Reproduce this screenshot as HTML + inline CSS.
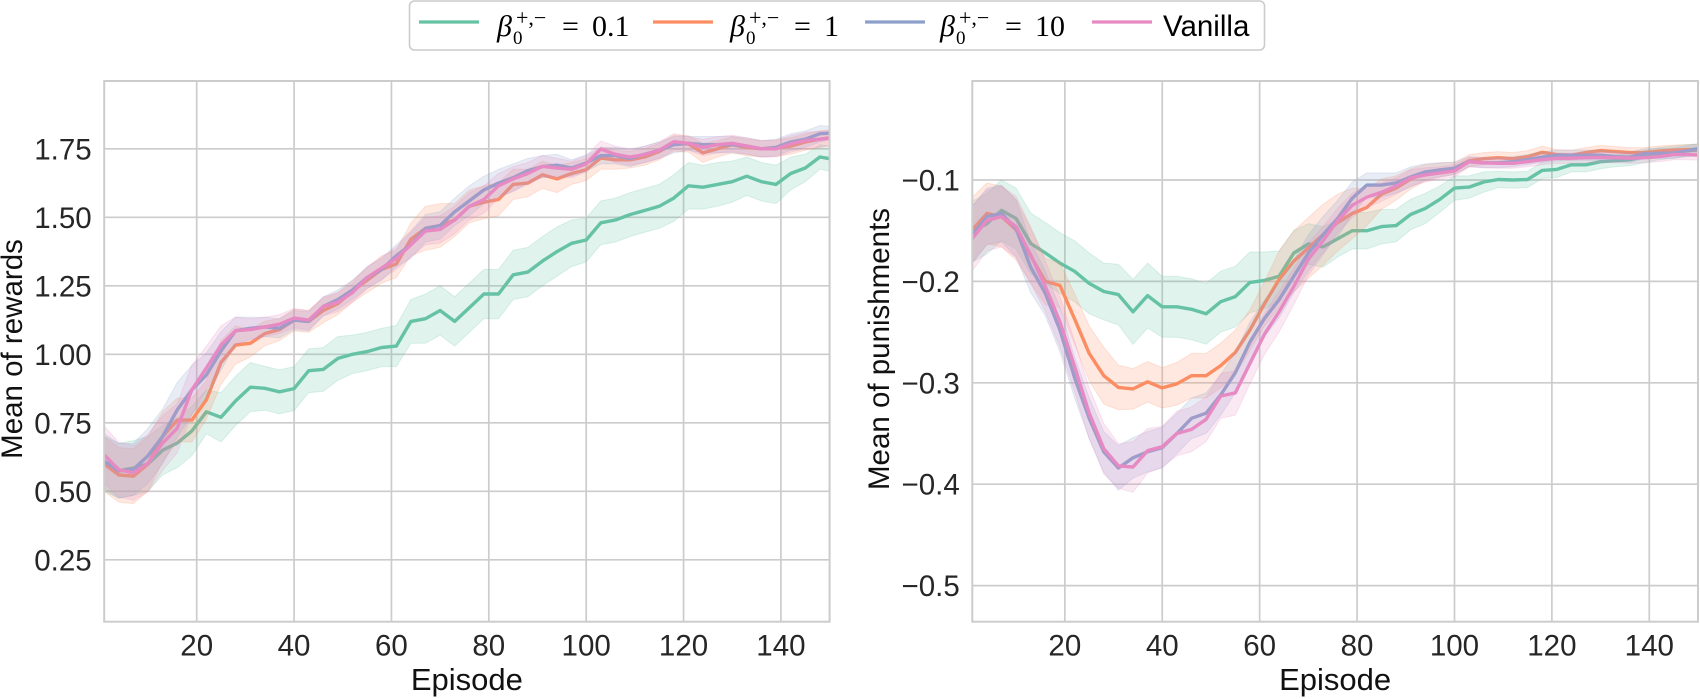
<!DOCTYPE html>
<html lang="en">
<head>
<meta charset="utf-8">
<title>Mean of rewards and punishments per episode</title>
<style>
html,body{margin:0;padding:0;background:#fff;}
body{width:1700px;height:699px;overflow:hidden;}
svg{display:block;font-family:"Liberation Sans",Arial,sans-serif;}
.serif{font-family:"Liberation Serif","DejaVu Serif",serif;fill:#000;}
</style>
</head>
<body>
<svg id="chart" width="1700" height="699" viewBox="0 0 1700 699" xmlns="http://www.w3.org/2000/svg">
  <rect width="1700" height="699" fill="#ffffff"/>
  <g id="panels"></g>
  <g>
    <rect x="409.5" y="1" width="855" height="49" rx="5" fill="#fff" stroke="#cccccc" stroke-width="1.6"/>
    <g>
      <line x1="419" x2="479" y1="22" y2="22" stroke="#66c2a5" stroke-width="3.2"/>
      <text class="serif" x="497" y="36" font-size="30" font-style="italic">β</text>
      <text class="serif" x="516" y="25" font-size="22">+,−</text>
      <text class="serif" x="513" y="44" font-size="19">0</text>
      <text class="serif" x="562" y="36" font-size="30">=</text>
      <text class="serif" x="592" y="36" font-size="30">0.1</text>
    </g>
    <g>
      <line x1="653" x2="713" y1="22" y2="22" stroke="#fc8d62" stroke-width="3.2"/>
      <text class="serif" x="730" y="36" font-size="30" font-style="italic">β</text>
      <text class="serif" x="749" y="25" font-size="22">+,−</text>
      <text class="serif" x="746" y="44" font-size="19">0</text>
      <text class="serif" x="794" y="36" font-size="30">=</text>
      <text class="serif" x="824" y="36" font-size="30">1</text>
    </g>
    <g>
      <line x1="865" x2="925" y1="22" y2="22" stroke="#8da0cb" stroke-width="3.2"/>
      <text class="serif" x="940" y="36" font-size="30" font-style="italic">β</text>
      <text class="serif" x="959" y="25" font-size="22">+,−</text>
      <text class="serif" x="956" y="44" font-size="19">0</text>
      <text class="serif" x="1005" y="36" font-size="30">=</text>
      <text class="serif" x="1035" y="36" font-size="30">10</text>
    </g>
    <g>
      <line x1="1092" x2="1152" y1="22" y2="22" stroke="#e78ac3" stroke-width="3.2"/>
      <text x="1163" y="36" font-size="29.5" fill="#000">Vanilla</text>
    </g>
  </g>
</svg>
<script>
// Shared categories
const episodes = [1,4,7,10,13,16,19,22,25,28,31,34,37,40,43,46,49,52,55,58,61,64,67,70,73,76,79,82,85,88,91,94,97,100,103,106,109,112,115,118,121,124,127,130,133,136,139,142,145,148,150];
const xTickValues = [20,40,60,80,100,120,140];
const seriesNames = ['beta-0.1','beta-1','beta-10','vanilla'];
const seriesColors = ['#66c2a5','#fc8d62','#8da0cb','#e78ac3'];

// Left panel: mean of rewards
const rewardTickValues = [0.25,0.5,0.75,1.0,1.25,1.5,1.75];
const rewardTickLabels = ['0.25','0.50','0.75','1.00','1.25','1.50','1.75'];
const rewardsBeta01 = [.60,.575,.585,.60,.65,.676,.72,.79,.77,.83,.88,.876,.863,.875,.94,.945,.985,1.0,1.01,1.025,1.03,1.12,1.13,1.16,1.12,1.17,1.22,1.22,1.29,1.30,1.34,1.375,1.405,1.417,1.48,1.49,1.51,1.525,1.54,1.57,1.615,1.61,1.62,1.63,1.65,1.63,1.62,1.66,1.68,1.72,1.714];
const rewardsBeta1 = [.60,.56,.555,.60,.70,.76,.76,.834,.97,1.034,1.04,1.076,1.09,1.125,1.12,1.16,1.185,1.23,1.27,1.31,1.33,1.42,1.46,1.47,1.49,1.54,1.555,1.565,1.62,1.625,1.655,1.64,1.66,1.674,1.716,1.71,1.71,1.72,1.74,1.77,1.768,1.735,1.75,1.765,1.755,1.75,1.752,1.76,1.775,1.785,1.79];
const rewardsBeta10 = [.61,.575,.58,.63,.70,.797,.87,.925,1.012,1.086,1.095,1.10,1.095,1.125,1.12,1.175,1.2,1.235,1.28,1.31,1.36,1.40,1.46,1.47,1.52,1.56,1.60,1.625,1.645,1.67,1.685,1.69,1.68,1.698,1.725,1.725,1.715,1.73,1.745,1.765,1.77,1.765,1.765,1.765,1.76,1.75,1.755,1.775,1.785,1.805,1.807];
const rewardsVanilla = [.633,.579,.567,.603,.676,.73,.87,.95,1.034,1.086,1.09,1.10,1.11,1.132,1.125,1.175,1.19,1.225,1.28,1.315,1.35,1.40,1.45,1.456,1.49,1.54,1.565,1.615,1.64,1.66,1.686,1.68,1.675,1.695,1.749,1.73,1.72,1.729,1.745,1.776,1.77,1.755,1.765,1.77,1.76,1.75,1.75,1.768,1.78,1.785,1.789];
const rewardsSpreadBeta01 = [.1,.1,.1,.1,.09,.09,.09,.08,.09,.09,.09,.08,.08,.08,.08,.08,.08,.07,.07,.07,.075,.08,.09,.09,.09,.09,.09,.09,.09,.09,.09,.09,.085,.08,.08,.08,.08,.08,.08,.085,.085,.08,.08,.075,.07,.07,.07,.06,.05,.045,.045];
const rewardsSpreadBeta1 = [.1,.1,.1,.1,.09,.08,.08,.07,.08,.07,.05,.045,.04,.04,.04,.045,.04,.04,.045,.05,.05,.06,.08,.08,.06,.06,.06,.06,.055,.05,.05,.05,.04,.04,.04,.035,.03,.03,.03,.03,.03,.035,.03,.03,.03,.03,.03,.03,.03,.03,.03];
const rewardsSpreadBeta10 = [.1,.1,.095,.1,.1,.1,.09,.08,.07,.05,.04,.035,.035,.035,.035,.035,.035,.035,.04,.04,.04,.05,.05,.05,.05,.055,.05,.05,.05,.045,.04,.04,.03,.03,.03,.03,.03,.03,.03,.03,.025,.03,.03,.03,.03,.03,.03,.03,.03,.03,.025];
const rewardsSpreadVanilla = [.105,.1,.1,.105,.1,.09,.09,.08,.07,.05,.04,.035,.035,.035,.035,.035,.035,.035,.04,.04,.04,.045,.05,.05,.05,.05,.05,.045,.045,.04,.04,.035,.03,.03,.03,.03,.03,.03,.03,.03,.025,.03,.03,.03,.03,.03,.03,.03,.03,.03,.025];

// Right panel: mean of punishments
const punishTickValues = [-0.1,-0.2,-0.3,-0.4,-0.5];
const punishTickLabels = ['−0.1','−0.2','−0.3','−0.4','−0.5'];
const punishBeta01 = [-.151,-.143,-.13,-.138,-.1625,-.172,-.182,-.19,-.202,-.21,-.213,-.23,-.214,-.225,-.225,-.2275,-.232,-.22,-.215,-.201,-.199,-.195,-.172,-.163,-.166,-.158,-.15,-.15,-.146,-.145,-.134,-.128,-.119,-.108,-.107,-.102,-.0995,-.1,-.0995,-.0905,-.0895,-.085,-.085,-.082,-.081,-.08,-.077,-.074,-.0725,-.071,-.0705];
const punishBeta1 = [-.149,-.133,-.136,-.149,-.175,-.2,-.204,-.237,-.271,-.293,-.3045,-.306,-.299,-.305,-.301,-.293,-.293,-.283,-.27,-.248,-.222,-.198,-.18,-.167,-.154,-.142,-.133,-.127,-.114,-.108,-.099,-.093,-.09,-.0885,-.081,-.079,-.078,-.079,-.077,-.0727,-.075,-.0755,-.073,-.071,-.072,-.073,-.073,-.0715,-.0705,-.07,-.07];
const punishBeta10 = [-.154,-.136,-.133,-.148,-.186,-.212,-.248,-.295,-.335,-.368,-.384,-.374,-.368,-.364,-.35,-.335,-.33,-.312,-.29,-.26,-.2365,-.218,-.195,-.172,-.154,-.138,-.118,-.105,-.105,-.103,-.097,-.092,-.09,-.0885,-.082,-.083,-.083,-.082,-.08,-.0775,-.0755,-.0755,-.0755,-.0755,-.077,-.0775,-.074,-.0737,-.0735,-.071,-.069];
const punishVanilla = [-.1576,-.14,-.136,-.146,-.174,-.205,-.24,-.284,-.33,-.365,-.382,-.383,-.367,-.363,-.35,-.346,-.336,-.313,-.31,-.281,-.252,-.23,-.205,-.178,-.16,-.14,-.125,-.117,-.112,-.106,-.098,-.095,-.093,-.091,-.082,-.083,-.0835,-.0835,-.082,-.08,-.0787,-.0785,-.078,-.0777,-.078,-.0785,-.078,-.077,-.075,-.075,-.0754];
const punishSpreadBeta01 = [.03,.03,.03,.03,.03,.03,.03,.03,.03,.028,.03,.032,.032,.03,.03,.03,.03,.03,.03,.03,.028,.025,.022,.02,.02,.018,.018,.018,.017,.016,.015,.015,.013,.012,.011,.01,.008,.008,.008,.008,.008,.007,.007,.007,.006,.006,.006,.006,.006,.006,.006];
const punishSpreadBeta1 = [.032,.03,.03,.03,.027,.023,.022,.025,.027,.028,.022,.02,.02,.02,.021,.022,.022,.022,.022,.02,.022,.028,.03,.03,.03,.028,.025,.018,.015,.012,.01,.008,.007,.006,.006,.006,.006,.006,.006,.006,.005,.005,.005,.005,.005,.005,.005,.005,.005,.005,.005];
const punishSpreadBeta10 = [.028,.028,.028,.028,.025,.022,.022,.02,.02,.02,.022,.02,.02,.02,.02,.02,.02,.02,.02,.02,.018,.018,.016,.018,.018,.018,.016,.012,.012,.01,.01,.008,.007,.006,.005,.005,.005,.005,.005,.005,.005,.005,.005,.005,.005,.005,.005,.005,.005,.005,.005];
const punishSpreadVanilla = [.032,.03,.03,.03,.028,.025,.025,.025,.025,.025,.022,.025,.022,.02,.022,.022,.022,.022,.022,.02,.02,.02,.018,.016,.014,.012,.012,.01,.009,.008,.008,.007,.006,.006,.005,.005,.005,.005,.005,.005,.005,.005,.005,.005,.005,.005,.005,.005,.005,.005,.005];

const NS = 'http://www.w3.org/2000/svg';
const root = document.getElementById('panels');

function make(tag, attrs, parent) {
  const el = document.createElementNS(NS, tag);
  for (const k in attrs) el.setAttribute(k, attrs[k]);
  parent.appendChild(el);
  return el;
}

function drawPanel(cfg) {
  const group = make('g', {}, root);
  
  

  const L = cfg.left, R = cfg.right, T = 81, B = 621.7;
  const xScale = function (e) { return L + (e - 1) * (R - L) / 149; };
  const yScale = function (v) { return cfg.y0 + (cfg.v0 - v) * cfg.yPerUnit; };

  const clipId = cfg.id + '-clip';
  const defs = make('defs', {}, group);
  const clip = make('clipPath', { id: clipId }, defs);
  make('rect', { x: L, y: T, width: R - L, height: B - T }, clip);

  xTickValues.forEach(function (t) {
    const g = make('line', { x1: xScale(t), x2: xScale(t), y1: T, y2: B, stroke: '#cccccc', 'stroke-width': 1.7 }, group);
    
    
    const lab = make('text', { x: xScale(t), y: 655.5, 'text-anchor': 'middle', 'font-size': 29.5, fill: '#262626' }, group);
    lab.textContent = String(t);
    
    
  });

  cfg.yTicks.forEach(function (t, i) {
    const g = make('line', { x1: L, x2: R, y1: yScale(t), y2: yScale(t), stroke: '#cccccc', 'stroke-width': 1.7 }, group);
    
    
    const lab = make('text', { x: L - 12.5, y: yScale(t) + 10.5, 'text-anchor': 'end', 'font-size': 29.5, fill: '#262626' }, group);
    lab.textContent = cfg.yLabels[i];
    
    
  });

  const marks = make('g', { 'clip-path': 'url(#' + clipId + ')' }, group);
  cfg.series.forEach(function (values, s) {
    const spread = cfg.spreads[s];
    const upper = values.map(function (v, i) { return xScale(episodes[i]).toFixed(1) + ',' + yScale(v + spread[i]).toFixed(1); });
    const lower = values.map(function (v, i) { return xScale(episodes[i]).toFixed(1) + ',' + yScale(v - spread[i]).toFixed(1); }).reverse();
    const band = make('polygon', { points: upper.concat(lower).join(' '), fill: seriesColors[s], 'fill-opacity': 0.2, stroke: seriesColors[s], 'stroke-opacity': 0.2, 'stroke-width': 1 }, marks);
    
    
    const pts = values.map(function (v, i) { return xScale(episodes[i]).toFixed(1) + ',' + yScale(v).toFixed(1); });
    const line = make('polyline', { points: pts.join(' '), fill: 'none', stroke: seriesColors[s], 'stroke-width': 3.4, 'stroke-linejoin': 'round', 'stroke-linecap': 'round' }, marks);
    
    
  });

  const frame = make('rect', { x: L, y: T, width: R - L, height: B - T, fill: 'none', stroke: '#cccccc', 'stroke-width': 2 }, group);
  
  

  const xTitle = make('text', { x: (L + R) / 2, y: 690, 'text-anchor': 'middle', 'font-size': 31, fill: '#111' }, group);
  xTitle.textContent = 'Episode';
  
  

  const yTitle = make('text', { x: 0, y: 0, transform: 'translate(' + cfg.yTitleX + ',349) rotate(-90)', 'text-anchor': 'middle', 'font-size': 29.5, fill: '#111' }, group);
  yTitle.textContent = cfg.yTitle;
  
  
}

drawPanel({
  id: 'rewards', left: 104.2, right: 829.6, y0: 354.3, v0: 1.0, yPerUnit: 274,
  yTicks: rewardTickValues, yLabels: rewardTickLabels, yTitle: 'Mean of rewards', yTitleX: 22,
  series: [rewardsBeta01, rewardsBeta1, rewardsBeta10, rewardsVanilla],
  spreads: [rewardsSpreadBeta01, rewardsSpreadBeta1, rewardsSpreadBeta10, rewardsSpreadVanilla]
});
drawPanel({
  id: 'punishments', left: 972.3, right: 1698, y0: 180, v0: -0.1, yPerUnit: 1014,
  yTicks: punishTickValues, yLabels: punishTickLabels, yTitle: 'Mean of punishments', yTitleX: 889,
  series: [punishBeta01, punishBeta1, punishBeta10, punishVanilla],
  spreads: [punishSpreadBeta01, punishSpreadBeta1, punishSpreadBeta10, punishSpreadVanilla]
});
</script>
</body>
</html>
